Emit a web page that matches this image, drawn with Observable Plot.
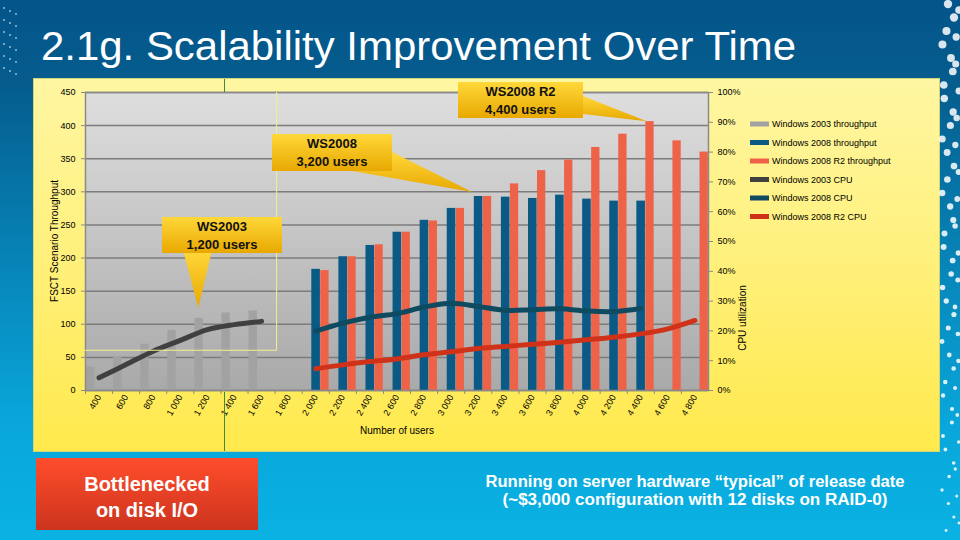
<!DOCTYPE html>
<html><head><meta charset="utf-8">
<script src="https://cdn.jsdelivr.net/npm/d3@7"></script>
<script src="https://cdn.jsdelivr.net/npm/@observablehq/plot@0.6"></script>
<style>
html,body{margin:0;padding:0;width:960px;height:540px;overflow:hidden;}
body{position:relative;font-family:"Liberation Sans",Arial,sans-serif;
 background:linear-gradient(180deg,#04558a 0%,#055c8d 15%,#0780b3 45%,#09a6da 78%,#0ab2e3 100%);}
#panel{position:absolute;left:34px;top:79px;width:905px;height:372px;
 background:linear-gradient(180deg,#fff6a2 0%,#fff07a 50%,#ffe94c 100%);box-shadow:0 0 0 1px #cfd67a;}
#chart{position:absolute;left:0;top:0;}
#overlay{position:absolute;left:0;top:0;}
</style></head>
<body>
<div id="panel"></div>
<div id="chart"></div>
<svg id="overlay" width="960" height="540"></svg>
<script>
// ---------- data ----------
const categories = [400,600,800,1000,1200,1400,1600,1800,2000,2200,2400,2600,2800,3000,3200,3400,3600,3800,4000,4200,4400,4600,4800];
const tickLabels = ["400","600","800","1 000","1 200","1 400","1 600","1 800","2 000","2 200","2 400","2 600","2 800","3 000","3 200","3 400","3 600","3 800","4 000","4 200","4 400","4 600","4 800"];

const users2003 = [400,600,800,1000,1200,1400,1600];
const throughput2003 = [35,51,70,91,109,117,120];
const cpu2003 = [4.3,8.7,13.2,16.8,20.4,22.1,23.2];

const users2008 = [2000,2200,2400,2600,2800,3000,3200,3400,3600,3800,4000,4200,4400];
const throughput2008 = [183,202,219,239,257,275,293,292,290,295,289,286,286];
const cpu2008 = [19.9,22.6,24.6,25.8,28.0,29.3,28.2,26.9,27.1,27.4,26.7,26.5,27.5];

const usersR2 = [2000,2200,2400,2600,2800,3000,3200,3400,3600,3800,4000,4200,4400,4600,4800];
const throughputR2 = [181,202,220,239,256,275,293,312,332,348,367,387,406,377,360];
const cpuR2 = [7.3,8.6,9.7,10.6,12.0,13.0,14.1,14.8,15.5,16.2,17.0,17.9,19.0,20.7,23.5];

const leftTicks = [0,50,100,150,200,250,300,350,400,450];
const cpuTicks = [0,10,20,30,40,50,60,70,80,90,100];
const cpuToLeft = 450/100; // secondary axis: 100% aligns with 450

const seriesNames = ["Windows 2003 throughput","Windows 2008 throughput","Windows 2008 R2 throughput","Windows 2003 CPU","Windows 2008 CPU","Windows 2008 R2 CPU"];
const seriesColors = ["#a2a2a2","#0b5a86","#ee6248","#404040","#0e4a60","#cf3218"];

const rows = (u, t, c) => u.map((users, i) => ({users, tp: t[i], cpu: c[i]}));
const d2003 = rows(users2003, throughput2003, cpu2003);
const d2008 = rows(users2008, throughput2008, cpu2008);
const dR2 = rows(usersR2, throughputR2, cpuR2);

const bw = (960 - 85 - 252) / categories.length;

const plot = Plot.plot({
  width: 960, height: 540,
  marginLeft: 85, marginRight: 252, marginTop: 92, marginBottom: 150,
  style: {background: "transparent", fontFamily: "Liberation Sans, Arial, sans-serif", fontSize: "9px", color: "#000", overflow: "visible"},
  x: {type: "band", domain: categories, padding: 0, round: false},
  y: {domain: [0, 450]},
  marks: [
    Plot.frame({fill: "url(#plotBg)", stroke: null}),
    Plot.gridY({ticks: leftTicks, stroke: "#7c7c7c", strokeOpacity: 1, strokeWidth: 1.5}),
    Plot.barY(d2003, {x: "users", y: "tp", fill: seriesColors[0], insetLeft: 1, insetRight: bw - 9.4}),
    Plot.barY(d2008, {x: "users", y: "tp", fill: seriesColors[1], insetLeft: 9.6, insetRight: bw - 18.2}),
    Plot.barY(dR2, {x: "users", y: "tp", fill: seriesColors[2], insetLeft: 18.6, insetRight: 0.2}),
    Plot.frame({stroke: "#8a8a8a", strokeWidth: 1.5}),
    Plot.line(d2003, {x: "users", y: d => d.cpu * cpuToLeft, stroke: seriesColors[3], strokeWidth: 5, curve: "catmull-rom"}),
    Plot.line(d2008, {x: "users", y: d => d.cpu * cpuToLeft, stroke: seriesColors[4], strokeWidth: 5, curve: "catmull-rom"}),
    Plot.line(dR2, {x: "users", y: d => d.cpu * cpuToLeft, stroke: seriesColors[5], strokeWidth: 5, curve: "catmull-rom"}),
    Plot.ruleX(categories, {x: d => d, y1: 0, y2: -6, dx: -bw / 2, stroke: "#8a8a8a"}),
    Plot.axisY({anchor: "left", ticks: leftTicks, tickSize: 4, tickPadding: 6, label: null, stroke: "#8a8a8a"}),
    Plot.axisY({anchor: "right", ticks: cpuTicks.map(t => t * cpuToLeft), tickFormat: v => Math.round(v / cpuToLeft) + "%", tickSize: 4, tickPadding: 5, label: null, stroke: "#8a8a8a"}),
    Plot.axisX({tickRotate: -60, tickFormat: d => tickLabels[categories.indexOf(d)], tickSize: 0, tickPadding: 5, label: null})
  ]
});
document.getElementById("chart").appendChild(plot);

// plot background gradient
const psvg = d3.select(plot.tagName.toLowerCase() === "svg" ? plot : plot.querySelector("svg"));
const pdefs = psvg.insert("defs", ":first-child");
const pg = pdefs.append("linearGradient").attr("id", "plotBg").attr("x1", 0).attr("y1", 0).attr("x2", 0).attr("y2", 1);
pg.append("stop").attr("offset", "0%").attr("stop-color", "#dedede");
pg.append("stop").attr("offset", "100%").attr("stop-color", "#a9a9a9");

// ---------- overlay ----------
const xs = plot.scale("x"), ys = plot.scale("y");
const svg = d3.select("#overlay");
const defs = svg.append("defs");
const gold = defs.append("linearGradient").attr("id", "gold").attr("x1", 0).attr("y1", 0).attr("x2", 0).attr("y2", 1);
gold.append("stop").attr("offset", "0%").attr("stop-color", "#ffd83a");
gold.append("stop").attr("offset", "100%").attr("stop-color", "#e8a800");
const red = defs.append("linearGradient").attr("id", "redbox").attr("x1", 0).attr("y1", 0).attr("x2", 0).attr("y2", 1);
red.append("stop").attr("offset", "0%").attr("stop-color", "#ff4d2c");
red.append("stop").attr("offset", "100%").attr("stop-color", "#cc341e");

// slide decoration: dotted edges
const deco = svg.append("g").attr("fill", "#fff");
for (let k = 0; k < 40; k++) {
  const y = 4 + k * 13.5;
  const r = Math.max(0.8, 4.2 - k * 0.07);
  deco.append("circle").attr("cx", 948 + 6 * Math.sin(k * 1.7)).attr("cy", y).attr("r", r).attr("opacity", 0.85);
  if (k % 2 === 0) deco.append("circle").attr("cx", 957 + 2 * Math.cos(k)).attr("cy", y + 6).attr("r", r * 0.9).attr("opacity", 0.85);
}
for (let k = 0; k < 6; k++) for (let j = 0; j < 3; j++)
  deco.append("circle").attr("cx", 4 + j * 6).attr("cy", 8 + k * 12 + j * 3).attr("r", 1).attr("opacity", 0.6);

svg.append("line").attr("x1", 224.5).attr("x2", 224.5).attr("y1", 79).attr("y2", 92).attr("stroke", "#3a8a4a");
svg.append("line").attr("x1", 224.5).attr("x2", 224.5).attr("y1", 392).attr("y2", 451).attr("stroke", "#3a8a4a");
const xEnd2003 = xs.apply(1600) + xs.bandwidth + 2;
svg.append("path").attr("d", `M${xs.range[0]},${ys.apply(60)}H${xEnd2003}V${ys.apply(450)}`)
  .attr("fill", "none").attr("stroke", "#f4ee8c").attr("stroke-width", 1);

// title
svg.append("text").attr("x", 41).attr("y", 60).attr("fill", "#fff").attr("font-size", 41)
  .attr("font-family", "Liberation Sans, Arial, sans-serif").attr("textLength", 755).attr("lengthAdjust", "spacingAndGlyphs")
  .text("2.1g. Scalability Improvement Over Time");

// axis titles
svg.append("text").attr("transform", "translate(58,241) rotate(-90)").attr("text-anchor", "middle")
  .attr("font-size", 10).attr("fill", "#000").text("FSCT Scenario Throughput");
svg.append("text").attr("transform", "translate(746,318) rotate(-90)").attr("text-anchor", "middle")
  .attr("font-size", 10).attr("fill", "#000").text("CPU utilization");
svg.append("text").attr("x", 397).attr("y", 434).attr("text-anchor", "middle")
  .attr("font-size", 10).attr("fill", "#000").text("Number of users");

// legend
const legY = [124, 142.5, 161, 179.5, 198, 216.5];
seriesNames.forEach((name, i) => {
  svg.append("rect").attr("x", 750).attr("y", legY[i] - 2.5).attr("width", 19).attr("height", 5).attr("fill", seriesColors[i]);
  svg.append("text").attr("x", 772).attr("y", legY[i] + 3.2).attr("font-size", 9).attr("fill", "#000").text(name);
});

// callouts
const callouts = [
  {lines: ["WS2003", "1,200 users"], box: [162, 217, 120, 36], base: [[183, 250], [212, 250]], users: 1200, value: throughput2003[4], off: 5, lift: 10},
  {lines: ["WS2008", "3,200 users"], box: [272, 134, 120, 37], base: [[352, 171], [392, 152]], users: 3200, value: throughput2008[6], off: 8, lift: 4},
  {lines: ["WS2008 R2", "4,400 users"], box: [458, 82, 125, 36], base: [[583, 96], [583, 114]], users: 4400, value: throughputR2[12], off: 20, lift: 0}
];
callouts.forEach(c => {
  const tx = xs.apply(c.users) + c.off, ty = ys.apply(c.value) - c.lift;
  svg.append("path").attr("d", `M${c.base[0][0]},${c.base[0][1]}L${tx},${ty}L${c.base[1][0]},${c.base[1][1]}Z`)
    .attr("fill", "url(#gold)");
  const [bx, by, bw2, bh] = c.box;
  svg.append("rect").attr("x", bx).attr("y", by).attr("width", bw2).attr("height", bh).attr("fill", "url(#gold)");
  c.lines.forEach((l, i) => svg.append("text").attr("x", bx + bw2 / 2).attr("y", by + 14 + i * 17.5)
    .attr("text-anchor", "middle").attr("font-size", 13).attr("font-weight", "bold").attr("fill", "#111").text(l));
});

// bottom notes
svg.append("rect").attr("x", 36).attr("y", 458).attr("width", 222).attr("height", 72).attr("fill", "url(#redbox)");
[["Bottlenecked", 491], ["on disk I/O", 517]].forEach(([t, y]) =>
  svg.append("text").attr("x", 147).attr("y", y).attr("text-anchor", "middle").attr("font-size", 20)
    .attr("font-weight", "bold").attr("fill", "#fff").text(t));
[["Running on server hardware \u201ctypical\u201d of release date", 487, 419], ["(~$3,000 configuration with 12 disks on RAID-0)", 505, 385]].forEach(([t, y, w]) =>
  svg.append("text").attr("x", 695 - w / 2).attr("y", y).attr("font-size", 16)
    .attr("font-weight", "bold").attr("fill", "#fff").attr("textLength", w).attr("lengthAdjust", "spacingAndGlyphs").text(t));
</script>
</body></html>
